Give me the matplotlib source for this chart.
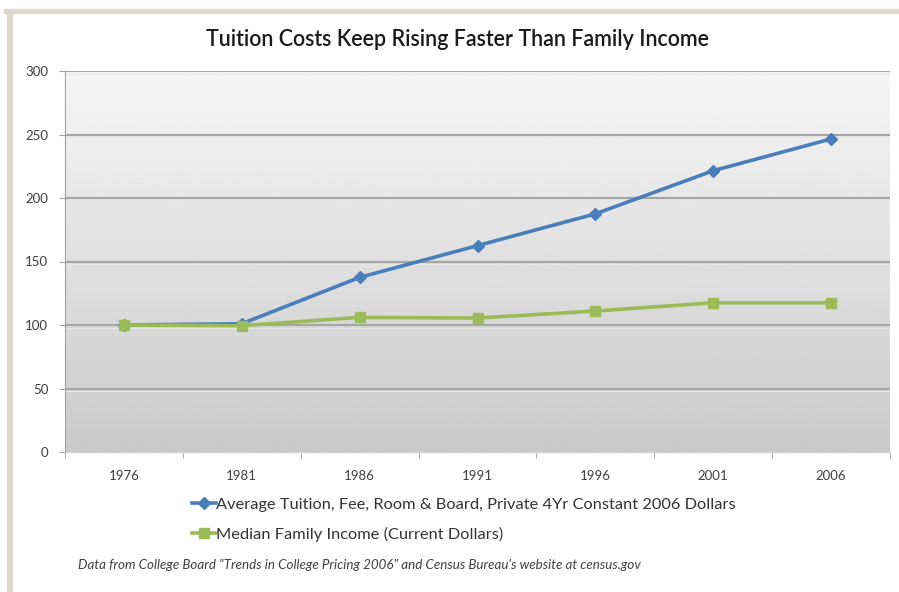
import matplotlib.pyplot as plt
import numpy as np
from matplotlib.patches import Rectangle

plt.rcParams['font.family'] = ['Lato', 'DejaVu Sans']

years = ['1976', '1981', '1986', '1991', '1996', '2001', '2006']
tuition = [100, 101, 137.5, 162.5, 187.5, 221.5, 246.5]
income = [100, 99.5, 106, 105.5, 111, 117.5, 117.5]
tuition_label = 'Average Tuition, Fee, Room & Board, Private 4Yr Constant 2006 Dollars'
income_label = 'Median Family Income (Current Dollars)'
title = 'Tuition Costs Keep Rising Faster Than Family Income'
note = 'Data from College Board "Trends in College Pricing 2006" and Census Bureau\'s website at census.gov'

fig = plt.figure(figsize=(8.99, 5.92), dpi=100)

# beige frame strips (top and left)
fig.patches.append(Rectangle((4 / 899, 1 - 13 / 592), 1, 4 / 592, transform=fig.transFigure,
                             color='#dcd9cc', zorder=0))
fig.patches.append(Rectangle((7 / 899, 0), 5 / 899, 1 - 10 / 592, transform=fig.transFigure,
                             color='#dcd9cc', zorder=0))

ax = fig.add_axes([65 / 899, 1 - 452 / 592, 825 / 899, 381 / 592])
x = np.arange(len(years))

# gradient background
grad = np.linspace(0.79, 0.965, 256).reshape(-1, 1)
ax.imshow(grad, cmap='gray', vmin=0, vmax=1, aspect='auto', origin='lower',
          extent=[-0.5, 6.5, 0, 300], zorder=0)

for v in range(50, 301, 50):
    ax.axhline(v, color='#a6a6a6', lw=1.6, zorder=1)
    ax.axhline(v - 2.2, color='#e6e6e6', lw=0.8, zorder=1)

ax.plot(x, tuition, color='#4a7ebb', lw=2.6, marker='D', ms=6.5, zorder=3, label=tuition_label)
ax.plot(x, income, color='#9bbb59', lw=2.6, marker='s', ms=7.5, zorder=3, label=income_label)

ax.set_xlim(-0.5, 6.5)
ax.set_ylim(0, 300)
ax.set_yticks(range(0, 301, 50))
ax.set_xticks(x)
ax.set_xticklabels(years)
ax.set_xticks(np.arange(-0.5, 7, 1), minor=True)
ax.tick_params(axis='x', which='major', length=0, pad=13, labelsize=9.5, colors='#404040')
ax.tick_params(axis='x', which='minor', length=4, color='#a0a0a0')
ax.tick_params(axis='y', length=4, color='#a0a0a0', labelsize=9.5, labelcolor='#404040', pad=8)
for s in ['top', 'right']:
    ax.spines[s].set_visible(False)
ax.spines['left'].set_color('#a0a0a0')
ax.spines['bottom'].set_color('#d0d0d0')

fig.text(458 / 899, 1 - 40 / 592, title, ha='center', va='center', fontsize=15.5,
         weight='semibold', color='#1a1a1a')

fig.legend(loc='upper left', bbox_to_anchor=(185 / 899, 1 - 491 / 592), frameon=False,
           fontsize=11.8, handlelength=1.5, handletextpad=0.0, labelspacing=0.9,
           labelcolor='#333333', borderaxespad=0)

fig.text(78 / 899, 1 - 565 / 592, note, ha='left', va='center', fontsize=9.6,
         style='italic', color='#404040')

fig.savefig('out.png', dpi=100, facecolor='white')
